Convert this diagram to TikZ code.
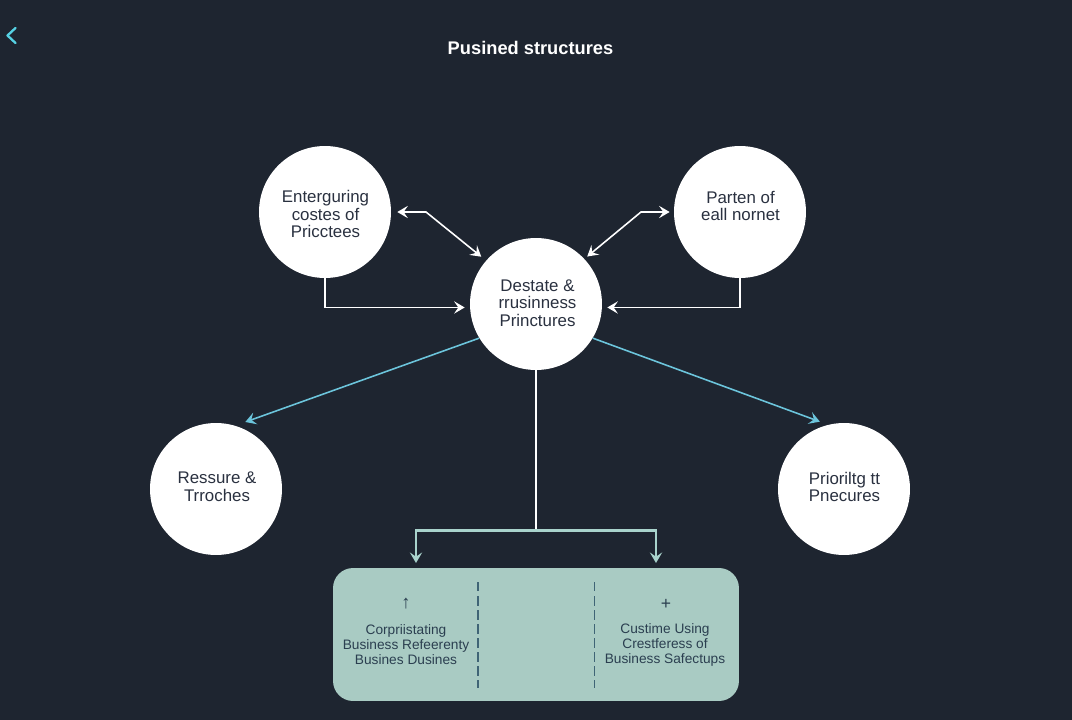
\documentclass[tikz,border=0pt]{standalone}
\usepackage{fontspec}
\setmainfont{Liberation Sans}
\usetikzlibrary{arrows.meta}

\definecolor{pagebg}{HTML}{1E2530}
\definecolor{boxfill}{HTML}{A9CBC3}
\definecolor{skyline}{HTML}{6CC5DC}
\definecolor{tealline}{HTML}{A9D3CC}
\definecolor{inktext}{HTML}{2A3140}
\definecolor{paneltextc}{HTML}{2B3F50}
\definecolor{dashline}{HTML}{3F6475}

\tikzset{
    tip/.tip={Stealth[length=6pt,width=7pt,inset=2.4pt]},
    bubble/.style={circle,fill=white,minimum size=2.64cm,inner sep=0pt},
    bubbletext/.style={text=inktext,align=center,inner sep=0pt,font=\fontsize{9.6}{10.1}\selectfont},
    panel/.style={rounded corners=0.4cm,fill=boxfill,minimum width=8.12cm,minimum height=2.66cm,inner sep=0pt},
    paneltext/.style={text=paneltextc,align=center,inner sep=0pt,font=\fontsize{7.8}{8.55}\selectfont},
    link/.style={draw=white,line width=0.9pt,-tip},
    twolink/.style={draw=white,line width=0.9pt,tip-tip},
    divider/.style={dashline,line width=0.75pt,dash pattern=on 5.4pt off 2.6pt}
}

\begin{document}
\begin{tikzpicture}[x=0.02cm,y=-0.02cm]
    \fill[pagebg] (0,0) rectangle (1072,720);
    \useasboundingbox (0,0) rectangle (1072,720);
    \draw[skyline!80!cyan,line width=1.3pt,line cap=round,line join=round] (15.5,28) -- (7.5,35.5) -- (15.5,43);
    \node[text=white,font=\fontsize{10.4}{12}\bfseries] (title) at (530.5,48) {Pusined structures};

    \node[bubble] (costs) at (325,212) {};
    \node[bubble] (parten) at (740,212) {};
    \node[bubble] (hub) at (536,304) {};
    \node[bubble] (ressure) at (216,489) {};
    \node[bubble] (priority) at (844,489) {};
    \node[panel] (panel) at (536,634.5) {};

    \node[bubbletext] (costslabel) at (325.5,214) {Enterguring\\costes of\\Pricctees};
    \node[bubbletext] (partenlabel) at (740.5,206) {Parten of\\eall nornet};
    \node[bubbletext] (hublabel) at (537.5,303) {Destate \&\\rrusinness\\Princtures};
    \node[bubbletext] (ressurelabel) at (217,487) {Ressure \&\\Trroches};
    \node[bubbletext] (prioritylabel) at (844.5,487) {Prioriltg tt\\Pnecures};

    \coordinate (costsbend) at (426,212);
    \coordinate (partenbend) at (641,212);
    \coordinate (split) at (536,530.5);
    \coordinate (leftdrop) at (416,563);
    \coordinate (rightdrop) at (656,563);

    \draw[twolink,shorten <=3.4pt,shorten >=3.4pt] (costs.east) -- (costsbend) -- (hub.139);
    \draw[twolink,shorten <=2.3pt,shorten >=2pt] (parten.west) -- (partenbend) -- (hub.43);
    \draw[link,shorten >=2.9pt] (costs.south) |- (hub.183);
    \draw[link,shorten >=2.9pt] (parten.south) |- (hub.357);

    \begin{scope}[skyline]
        \draw[link,draw=skyline,shorten >=6pt] (hub.211) -- (ressure.73);
        \draw[link,draw=skyline,shorten >=4.9pt] (hub.329) -- (priority.104);
    \end{scope}

    \draw[white,line width=1pt] (hub.south) -- (split);
    \draw[link,draw=tealline,line width=1.25pt] (split) -| (leftdrop);
    \draw[link,draw=tealline,line width=1.25pt] (split) -| (rightdrop);

    \draw[divider] (478,582) -- (478,688);
    \draw[divider] (594.5,582) -- (594.5,688);

    \node[paneltext,font=\fontsize{10.5}{11}\bfseries] (leftmark) at (406,603.5) {↑};
    \node[paneltext] (leftlabel) at (406,645) {Corpriistating\\Business Refeerenty\\Busines Dusines};
    \node[paneltext,font=\fontsize{10}{11}\selectfont] (rightmark) at (666,604.5) {+};
    \node[paneltext] (rightlabel) at (665,645) {Custime Using\\Crestferess of\\Business Safectups};
\end{tikzpicture}
\end{document}
